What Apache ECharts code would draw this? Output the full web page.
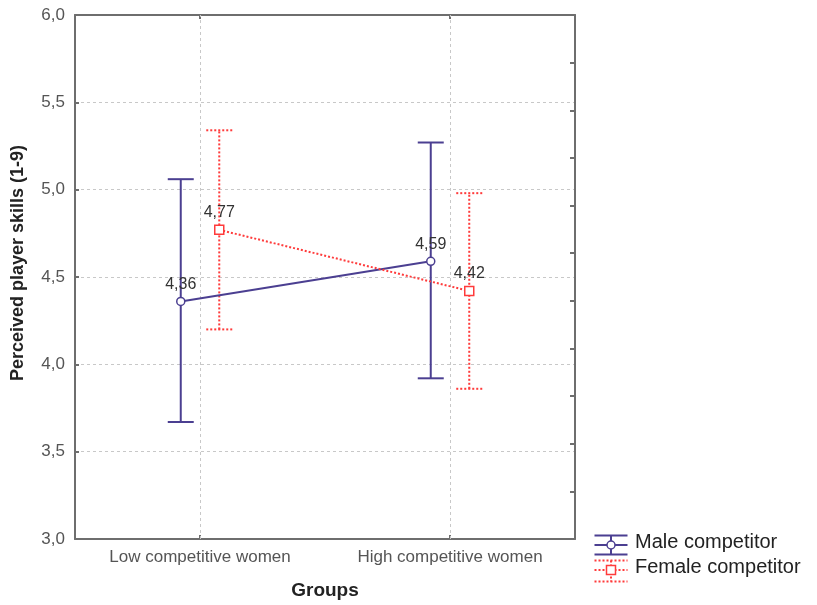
<!DOCTYPE html>
<html>
<head>
<meta charset="utf-8">
<script src="https://cdn.jsdelivr.net/npm/echarts@6/dist/echarts.min.js"></script>
<style>html,body{margin:0;padding:0;background:#fff;}#c{width:817px;height:605px;}</style>
</head>
<body>
<div id="c"></div>
<script>
const categories = ['Low competitive women', 'High competitive women'];
const maleMean = [4.36, 4.59];
const maleLow = [3.67, 3.92];
const maleHigh = [5.06, 5.27];
const femaleMean = [4.77, 4.42];
const femaleLow = [4.20, 3.86];
const femaleHigh = [5.34, 4.98];
const yTicks = [3.0, 3.5, 4.0, 4.5, 5.0, 5.5, 6.0];

const MALE = '#4b3f91';
const FEMALE = '#ff3b3b';
const OFF = 0.077;
const AXIS = '#6e6e6e';
const fmt = v => v.toFixed(2).replace('.', ',');

const maleLine = maleMean.map((v, i) => [i - OFF, v]);
const femaleLine = femaleMean.map((v, i) => [i + OFF, v]);
const maleErr = maleMean.map((v, i) => [i - OFF, maleLow[i], maleHigh[i]]);
const femaleErr = femaleMean.map((v, i) => [i + OFF, femaleLow[i], femaleHigh[i]]);

function errRender(color, dash) {
  return function (params, api) {
    const x = api.value(0);
    const a = api.coord([x, api.value(1)]);
    const b = api.coord([x, api.value(2)]);
    const hw = 13;
    const style = { stroke: color, lineWidth: 2, lineDash: dash };
    return {
      type: 'group',
      children: [
        { type: 'line', shape: { x1: a[0], y1: a[1], x2: b[0], y2: b[1] }, style: style },
        { type: 'line', shape: { x1: a[0] - hw, y1: a[1], x2: a[0] + hw, y2: a[1] }, style: style },
        { type: 'line', shape: { x1: b[0] - hw, y1: b[1], x2: b[0] + hw, y2: b[1] }, style: style }
      ]
    };
  };
}

const chart = echarts.init(document.getElementById('c'), null, { renderer: 'canvas' });
const option = {
  backgroundColor: '#fff',
  animation: false,
  grid: { left: 75, top: 15, right: 242, bottom: 66, containLabel: false },
  xAxis: [
    {
      type: 'category', data: categories, position: 'bottom', boundaryGap: true,
      axisLine: { show: true, onZero: false, lineStyle: { color: AXIS, width: 2 } },
      axisTick: { show: true, inside: true, alignWithLabel: true, length: 4, lineStyle: { color: AXIS, width: 2 } },
      axisLabel: { color: '#555', fontSize: 17, fontFamily: 'Liberation Sans, Arial', margin: 10 },
      splitLine: { show: false },
      name: 'Groups', nameLocation: 'middle', nameGap: 42,
      nameTextStyle: { color: '#222', fontSize: 19, fontWeight: 'bold', fontFamily: 'Liberation Sans, Arial' }
    },
    {
      type: 'category', data: categories, position: 'top', boundaryGap: true,
      axisLine: { show: true, onZero: false, lineStyle: { color: AXIS, width: 2 } },
      axisTick: { show: true, inside: true, alignWithLabel: true, length: 4, lineStyle: { color: AXIS, width: 2 } },
      axisLabel: { show: false }, splitLine: { show: false }
    },
    { type: 'value', min: -0.5, max: 1.5, show: false, axisLine: { onZero: false } }
  ],
  yAxis: [
    {
      type: 'value', min: 3, max: 6, interval: 0.5, position: 'left',
      axisLine: { show: true, onZero: false, lineStyle: { color: AXIS, width: 2 } },
      axisTick: { show: true, inside: true, length: 4, lineStyle: { color: AXIS, width: 2 } },
      axisLabel: { color: '#555', fontSize: 17, fontFamily: 'Liberation Sans, Arial', margin: 10,
        formatter: v => v.toFixed(1).replace('.', ',') },
      splitLine: { show: true, lineStyle: { color: '#c8c8c8', type: [3, 3], width: 1 } },
      name: 'Perceived player skills (1-9)', nameLocation: 'middle', nameGap: 48,
      nameTextStyle: { color: '#222', fontSize: 18, fontWeight: 'bold', fontFamily: 'Liberation Sans, Arial', padding: [0, 0, 0, 28] }
    },
    {
      type: 'value', min: 0, max: 11, interval: 1, position: 'right',
      axisLine: { show: true, onZero: false, lineStyle: { color: AXIS, width: 2 } },
      axisTick: { show: true, inside: true, length: 5, lineStyle: { color: AXIS, width: 2 } },
      axisLabel: { show: false }, splitLine: { show: false }
    }
  ],
  series: [
    {
      type: 'custom', name: 'Male err', xAxisIndex: 2, yAxisIndex: 0, z: 3,
      renderItem: errRender(MALE, null), data: maleErr, silent: true
    },
    {
      type: 'custom', name: 'Female err', xAxisIndex: 2, yAxisIndex: 0, z: 3,
      renderItem: errRender(FEMALE, [2, 2]), data: femaleErr, silent: true
    },
    {
      type: 'line', name: 'Male competitor', xAxisIndex: 2, yAxisIndex: 0, data: maleLine, z: 5,
      symbol: 'circle', symbolSize: 8,
      itemStyle: { color: '#fff', borderColor: MALE, borderWidth: 1.5 },
      lineStyle: { color: MALE, width: 2 },
      label: { show: true, position: 'top', distance: 4, color: '#333', fontSize: 16,
        fontFamily: 'Liberation Sans, Arial', formatter: p => fmt(p.value[1]) },
      markLine: {
        silent: true, symbol: 'none', label: { show: false }, z: 1,
        lineStyle: { color: '#c8c8c8', type: [3, 3], width: 1 },
        data: categories.map((c, i) => ({ xAxis: i }))
      }
    },
    {
      type: 'line', name: 'Female competitor', xAxisIndex: 2, yAxisIndex: 0, data: femaleLine, z: 5,
      symbol: 'rect', symbolSize: 9,
      itemStyle: { color: '#fff', borderColor: FEMALE, borderWidth: 1.5 },
      lineStyle: { color: FEMALE, width: 2, type: [2, 2] },
      label: { show: true, position: 'top', distance: 4, color: '#333', fontSize: 16,
        fontFamily: 'Liberation Sans, Arial', formatter: p => fmt(p.value[1]) }
    }
  ],
  graphic: [
    {
      type: 'group', left: 592, top: 533, children: [
        { type: 'line', shape: { x1: 0, y1: 1, x2: 33, y2: 1 }, style: { stroke: MALE, lineWidth: 2 } },
        { type: 'line', shape: { x1: 0, y1: 20, x2: 33, y2: 20 }, style: { stroke: MALE, lineWidth: 2 } },
        { type: 'line', shape: { x1: 16.5, y1: 1, x2: 16.5, y2: 20 }, style: { stroke: MALE, lineWidth: 2 } },
        { type: 'line', shape: { x1: 0, y1: 10.5, x2: 33, y2: 10.5 }, style: { stroke: MALE, lineWidth: 2 } },
        { type: 'circle', shape: { cx: 16.5, cy: 10.5, r: 4 }, style: { fill: '#fff', stroke: MALE, lineWidth: 1.5 } }
      ]
    },
    {
      type: 'group', left: 592, top: 558, children: [
        { type: 'line', shape: { x1: 0, y1: 1, x2: 33, y2: 1 }, style: { stroke: FEMALE, lineWidth: 2, lineDash: [2, 2] } },
        { type: 'line', shape: { x1: 0, y1: 22, x2: 33, y2: 22 }, style: { stroke: FEMALE, lineWidth: 2, lineDash: [2, 2] } },
        { type: 'line', shape: { x1: 16.5, y1: 1, x2: 16.5, y2: 22 }, style: { stroke: FEMALE, lineWidth: 2, lineDash: [2, 2] } },
        { type: 'line', shape: { x1: 0, y1: 10.5, x2: 33, y2: 10.5 }, style: { stroke: FEMALE, lineWidth: 2, lineDash: [2, 2] } },
        { type: 'rect', shape: { x: 12, y: 6, width: 9, height: 9 }, style: { fill: '#fff', stroke: FEMALE, lineWidth: 1.5 } }
      ]
    },
    { type: 'text', left: 635, top: 532, style: { text: 'Male competitor', fill: '#222', font: '20px "Liberation Sans", Arial' } },
    { type: 'text', left: 635, top: 557, style: { text: 'Female competitor', fill: '#222', font: '20px "Liberation Sans", Arial' } }
  ]
};
chart.setOption(option);
</script>
</body>
</html>
